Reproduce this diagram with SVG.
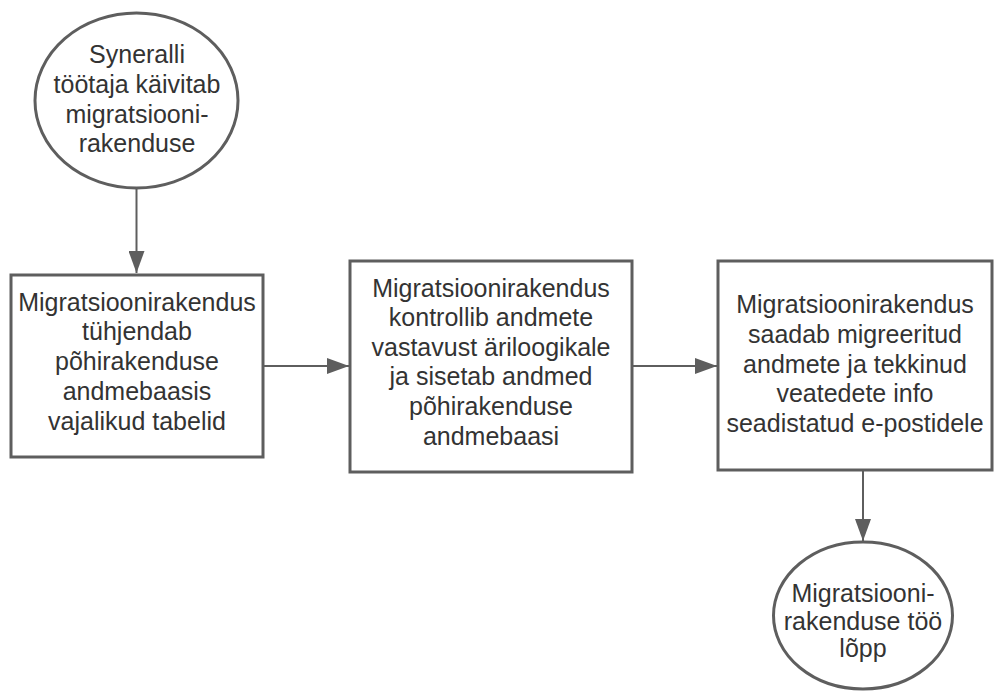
<svg xmlns="http://www.w3.org/2000/svg" width="995" height="693" viewBox="0 0 995 693">
<style>
.shape{fill:#ffffff;stroke:#5e5e5e;stroke-width:3}
.conn{fill:none;stroke:#5e5e5e;stroke-width:2}
text{font-family:"Liberation Sans",Arial,sans-serif;font-size:25px;fill:#333333;text-anchor:middle}
</style>
<defs>
<marker id="arr" markerWidth="22" markerHeight="16" refX="22" refY="8" orient="auto" markerUnits="userSpaceOnUse">
<path d="M0,0 L22,8 L0,16 Z" fill="#5e5e5e"/>
</marker>
</defs>
<rect width="995" height="693" fill="#ffffff"/>
<g id="connectors">
<line class="conn" x1="136.5" y1="189" x2="136.5" y2="273" marker-end="url(#arr)"/>
<line class="conn" x1="263" y1="366" x2="349" y2="366" marker-end="url(#arr)"/>
<line class="conn" x1="633" y1="366" x2="717" y2="366" marker-end="url(#arr)"/>
<line class="conn" x1="863" y1="471" x2="863" y2="541" marker-end="url(#arr)"/>
</g>
<g id="start">
<ellipse class="shape" cx="136.5" cy="100.5" rx="101.5" ry="87.5"/>
<text x="137" y="63">Syneralli</text>
<text x="137" y="93">töötaja käivitab</text>
<text x="137" y="123">migratsiooni-</text>
<text x="137" y="152">rakenduse</text>
</g>
<g id="step1">
<rect class="shape" x="11" y="275" width="252" height="182"/>
<text x="137" y="311">Migratsioonirakendus</text>
<text x="137" y="340">tühjendab</text>
<text x="137" y="370">põhirakenduse</text>
<text x="137" y="400">andmebaasis</text>
<text x="137" y="430">vajalikud tabelid</text>
</g>
<g id="step2">
<rect class="shape" x="350" y="261" width="282" height="211"/>
<text x="491" y="297">Migratsioonirakendus</text>
<text x="491" y="326">kontrollib andmete</text>
<text x="491" y="356">vastavust äriloogikale</text>
<text x="491" y="385">ja sisetab andmed</text>
<text x="491" y="415">põhirakenduse</text>
<text x="491" y="445">andmebaasi</text>
</g>
<g id="step3">
<rect class="shape" x="718" y="261" width="274" height="209"/>
<text x="855" y="313">Migratsioonirakendus</text>
<text x="855" y="343">saadab migreeritud</text>
<text x="855" y="373">andmete ja tekkinud</text>
<text x="855" y="402">veatedete info</text>
<text x="855" y="432">seadistatud e-postidele</text>
</g>
<g id="end">
<ellipse class="shape" cx="863" cy="615.5" rx="89.5" ry="73.5"/>
<text x="863" y="602">Migratsiooni-</text>
<text x="863" y="630">rakenduse töö</text>
<text x="863" y="657">lõpp</text>
</g>
</svg>
